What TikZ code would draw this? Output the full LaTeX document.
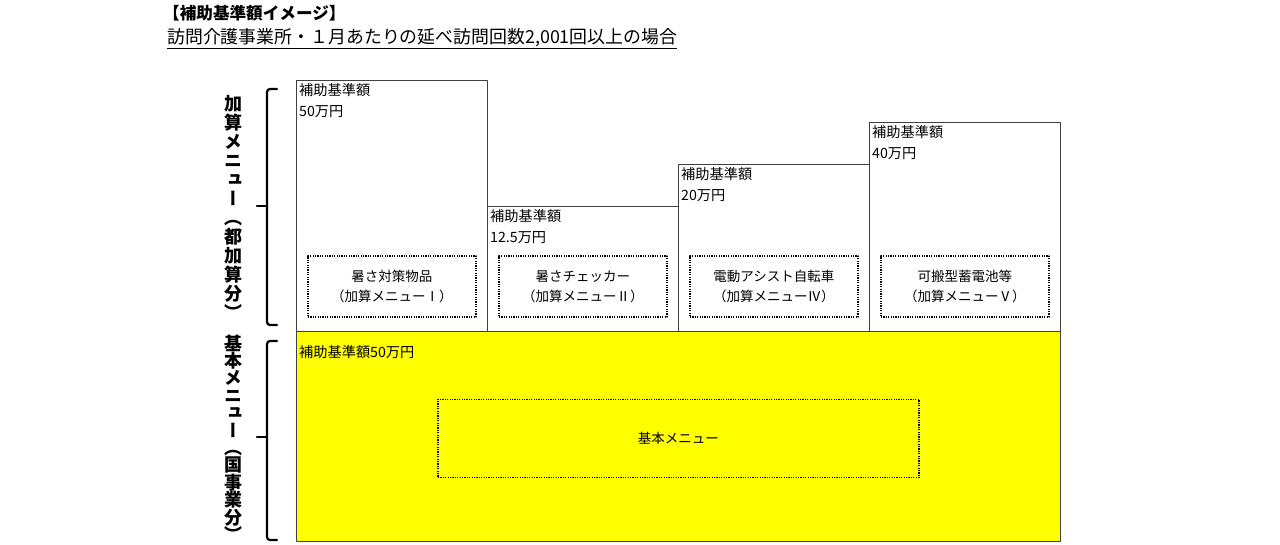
\documentclass[tikz,border=0pt]{standalone}
\usepackage{fontspec}
\setmainfont{Noto Sans CJK JP}
\newfontfamily\vertfont[RawFeature=+vert]{Noto Sans CJK JP}
\usetikzlibrary{positioning}
\definecolor{fg}{RGB}{0,0,0}
\definecolor{rim}{RGB}{64,64,64}
\definecolor{gelb}{RGB}{255,255,0}
\tikzset{
  every picture/.style={fg, line join=round},
  % Spalten
  col/.style={draw=rim, line width=0.9pt, anchor=north west, inner sep=0pt, minimum width=191pt},
  base/.style={col, fill=gelb, minimum width=764pt, minimum height=210pt},
  % Beschriftungen
  amt/.style={align=left, inner sep=0pt, font=\fontsize{14.2}{21.5}\selectfont},
  menu/.style={draw, line width=1.7pt, dash pattern=on 1.2pt off 1.2pt, align=center,
    minimum width=168pt, minimum height=61pt, font=\fontsize{13.5}{20}\selectfont},
  tate/.style={align=center, inner sep=0pt, font=\vertfont\bfseries\fontsize{18}{19}\selectfont},
  % Klammern
  klammer/.style={line width=2.2pt, rounded corners=3pt, line cap=round},
}

\begin{document}
\begin{tikzpicture}[x=1pt, y=-1pt]
  \useasboundingbox (0,0) rectangle (1280,544);
  % Überschrift
  \node[anchor=west, inner sep=0pt, font=\bfseries\fontsize{16.6}{18}\selectfont] (titel) at (163,13) {【補助基準額イメージ】};
  \node[anchor=west, inner sep=0pt, font=\fontsize{17.9}{20}\selectfont] (unter) at (167,39)
    {\underline{訪問介護事業所・１月あたりの延べ訪問回数2,001回以上の場合}};
  % Spalten der Zusatzmenüs
  \node[col, minimum height=251pt] (m1) at (296,80) {};
  \node[col, minimum height=125pt] (m2) at (487,206) {};
  \node[col, minimum height=167pt] (m3) at (678,164) {};
  \node[col, minimum height=209pt] (m4) at (869,122) {};
  \node[base] (m0) at (296,331) {};
  % Beträge
  \node[amt, below right=3pt and 3pt of m1.north west] (a1) {補助基準額\\50万円};
  \node[amt, below right=3pt and 3pt of m2.north west] (a2) {補助基準額\\12.5万円};
  \node[amt, below right=3pt and 3pt of m3.north west] (a3) {補助基準額\\20万円};
  \node[amt, below right=3pt and 3pt of m4.north west] (a4) {補助基準額\\40万円};
  \node[amt, below right=14pt and 3pt of m0.north west] (a0) {補助基準額50万円};
  % Menüs
  \node[menu, above=14pt of m1.south] (k1) {暑さ対策物品\\（加算メニューⅠ）};
  \node[menu, above=14pt of m2.south] (k2) {暑さチェッカー\\（加算メニューⅡ）};
  \node[menu, above=14pt of m3.south] (k3) {電動アシスト自転車\\（加算メニューⅣ）};
  \node[menu, above=14pt of m4.south] (k4) {可搬型蓄電池等\\（加算メニューⅤ）};
  \node[menu, minimum width=481pt, minimum height=78pt, below=2pt of m0.center, anchor=center] (k0) {基本メニュー};
  % senkrechte Beschriftung
  \node[tate] (t1) at (233,207) {加\\算\\メ\\ニ\\ュ\\ー\\（\\都\\加\\算\\分\\）};
  \node[tate, font=\vertfont\bfseries\fontsize{18}{17.4}\selectfont] (t0) at (233,438) {基\\本\\メ\\ニ\\ュ\\ー\\（\\国\\事\\業\\分\\）};
  % Klammern
  \coordinate (b1o) at (277,89);
  \coordinate (b1u) at (277,325);
  \coordinate (b1m) at (257,206);
  \coordinate (b0o) at (277,341);
  \coordinate (b0u) at (277,540);
  \coordinate (b0m) at (257,437);
  \draw[klammer] (b1o) -- ++(-10,0) |- (b1u);
  \draw[klammer] (b1m) -- ++(10,0);
  \draw[klammer] (b0o) -- ++(-10,0) |- (b0u);
  \draw[klammer] (b0m) -- ++(10,0);
\end{tikzpicture}
\end{document}
